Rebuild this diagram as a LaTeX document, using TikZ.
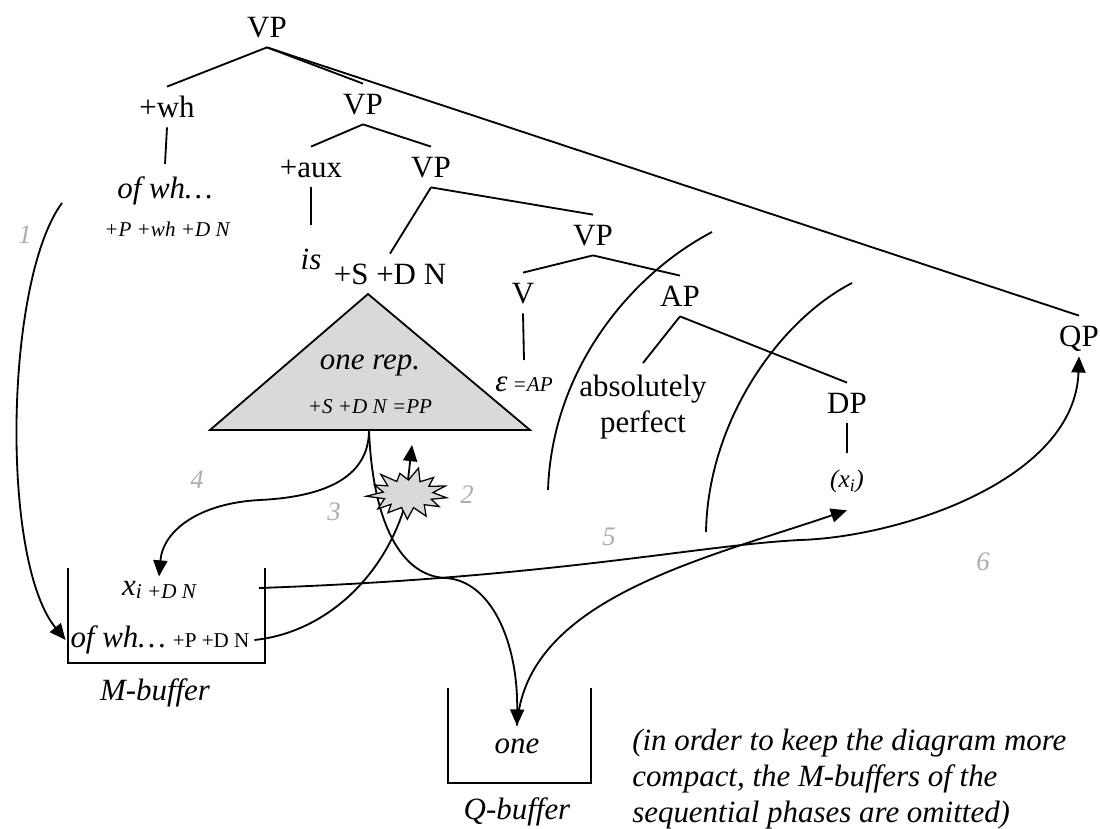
\documentclass[tikz,border=0pt]{standalone}
\usepackage{fontspec}
\setmainfont{Liberation Serif}
\usetikzlibrary{arrows.meta,backgrounds,calc}
\definecolor{numgray}{gray}{0.68}
\definecolor{trigray}{gray}{0.85}
\newcommand\featsize{\fontsize{15}{18}\selectfont}
\newcommand\mainsize{\fontsize{22}{25.5}\selectfont}

\begin{document}
\begin{tikzpicture}[x=0.025cm, y=-0.025cm,
  every node/.style={font=\mainsize},
  it/.style={font=\mainsize\itshape},
  cat/.style={text height=14.6pt, text depth=0pt, inner xsep=2pt, inner ysep=7pt},
  feat/.style={font=\featsize\itshape},
  num/.style={font=\fontsize{19}{22}\selectfont\itshape, text=numgray},
  branch/.style={line width=1.3pt},
  bound/.style={line width=1.3pt},
  arr/.style={line width=1.3pt, -{Triangle[length=11.5pt,width=10pt]}},
]
\useasboundingbox (0,0) rectangle (1100,829);

% ---- syntactic tree ----
\node[cat] (vp1) at (267,27) {VP};
\node[cat] (wh) at (167,107) {+wh};
\node[cat] (vp2) at (363,104) {VP};
\node[cat] (aux) at (311,167) {+aux};
\node[cat] (vp3) at (431,167) {VP};
\node[cat] (sdn) at (390,274) {+S +D N};
\node[cat] (vp4) at (593,235) {VP};
\node[cat] (vv) at (523,293) {V};
\node[cat] (ap) at (680,296) {AP};
\node[cat] (dp) at (847,403) {DP};
\node[cat] (qp) at (1079,336) {QP};

\node[it, anchor=north, inner ysep=9pt] (ofwh) at (165,164) {of wh…};
\node[feat] (whfeat) at (167,229) {+P +wh +D N};
\node[it, anchor=north, inner ysep=17pt] (is) at (311,225) {is};
\node[anchor=north, inner ysep=12pt] (eps) at (524,360) {\itshape ε\,{\featsize =AP}};
\node[align=center, anchor=north, inner ysep=8.5pt] (absp) at (643,363) {absolutely\\perfect};
\node[anchor=north, inner ysep=12pt, font=\fontsize{18}{20}\selectfont\itshape] (xdp) at (847,453) {(x\textsubscript{i})};

\draw[branch] (vp1.south) -- (wh.north);
\draw[branch] (vp1.south) -- (vp2.north);
\draw[branch] (vp1.south) -- (qp.north);
\draw[branch] (wh.south) -- (ofwh.north);
\draw[branch] (vp2.south) -- (aux.north);
\draw[branch] (vp2.south) -- (vp3.north);
\draw[branch] (aux.south) -- (is.north);
\draw[branch] (vp3.south) -- (sdn.north);
\draw[branch] (vp3.south) -- (vp4.north);
\draw[branch] (vp4.south) -- (vv.north);
\draw[branch] (vp4.south) -- (ap.north);
\draw[branch] (vv.south) -- (eps.north);
\draw[branch] (ap.south) -- (absp.north);
\draw[branch] (ap.south) -- (dp.north);
\draw[branch] (dp.south) -- (xdp.north);

% ---- the "one" representation triangle ----
\coordinate (tt) at (368,294);
\coordinate (tl) at (210,430);
\coordinate (tr) at (530,430);
\coordinate (tb) at (369,430);
\draw[line width=1.3pt, fill=trigray] (tt) -- (tl) -- (tr) -- cycle;
\node[it] (onerep) at (370,365) {one rep.};
\node[feat] (tfeat) at (370,407) {+S +D N =PP};

% ---- phase boundaries ----
\draw[bound] (548,490) .. controls (552,370) and (630,275) .. (712,232);
\draw[bound] (706,532) .. controls (708,420) and (780,320) .. (852,283);

% ---- M-buffer ----
\draw[bound] (68,568) -- (68,663) -- (265,663) -- (265,568);
\node (mx) at (159,590) {\itshape x\raisebox{-2pt}{\featsize i +D N}};
\node (mofwh) at (160,640) {\itshape of wh…\hspace{5pt}\upshape\featsize +P +D N};
\node[it] (mlab) at (155,693) {M-buffer};
\coordinate (mout) at (259,588);

% ---- Q-buffer ----
\draw[bound] (448,688) -- (448,783) -- (591,783) -- (591,688);
\node[it, inner ysep=9pt] (one) at (517,746) {one};
\node[it] (qlab) at (517,812) {Q-buffer};

\node[it, anchor=north west, inner sep=0pt, align=left] (note) at (632,729)
  {(in order to keep the diagram more\\compact, the M-buffers of the\\sequential phases are omitted)};

% ---- clash marker: a 13-pointed burst ----
\coordinate (burst) at (408,494);
\begin{scope}[shift={(burst)}]
  \filldraw[fill=trigray, line width=0.9pt, line join=miter]
    plot[samples at={0,...,25}, variable=\k]
      ({(isodd(\k) ? 25 : 39+3*sin(\k*97))*cos(\k*360/26+8)},
       {(isodd(\k) ? 14 : 24+3*cos(\k*71))*sin(\k*360/26+8)}) -- cycle;
\end{scope}
\coordinate (up) at (412,445);
\draw[arr] ($(burst)+(0,-14)$) -- (up);

% ---- movement arrows ----
\coordinate (c1) at (62,203);
\begin{scope}[on background layer]
  \draw[arr] (c1) .. controls (5,280) and (0,560) .. (mofwh.west);
  \draw[line width=1.3pt] (mofwh.east) .. controls (330,632) and (390,570) .. (burst);
  \draw[arr] (tb) .. controls (372,510) and (395,575) .. (445,578)
     .. controls (490,580) and (518,640) .. (one.north);
  \draw[arr] (tb) .. controls (369,480) and (320,497) .. (260,500)
     .. controls (200,503) and (163,530) .. (mx.north);
  \draw[arr] (one.north) .. controls (525,600) and (700,560) .. (xdp.south);
  \draw[arr] (mout) .. controls (550,578) and (700,545) .. (800,540)
     .. controls (900,537) and (1075,480) .. (qp.south);
\end{scope}

% ---- step numbers ----
\node[num] (n1) at (25,235) {1};
\node[num] (n2) at (467,495) {2};
\node[num] (n3) at (334,512) {3};
\node[num] (n4) at (197,480) {4};
\node[num] (n5) at (609,537) {5};
\node[num] (n6) at (983,562) {6};
\end{tikzpicture}
\end{document}
